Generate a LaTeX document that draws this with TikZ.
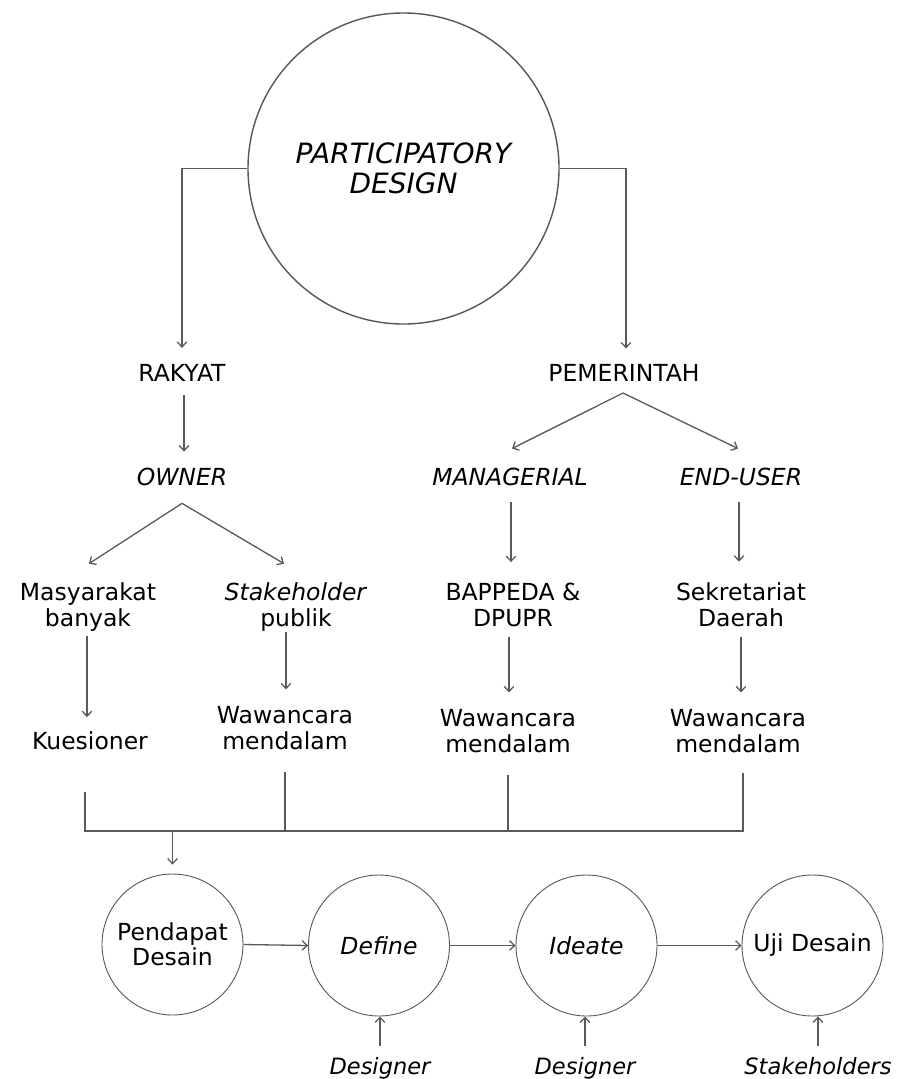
\documentclass[tikz,border=0pt]{standalone}
\usepackage{fontspec}
\setmainfont{DejaVu Sans}
\usetikzlibrary{arrows.meta}
\definecolor{linegray}{HTML}{5A5A5A}
\definecolor{circgray}{HTML}{5A5654}
\begin{document}
\begin{tikzpicture}[x=1pt,y=-1pt,
  lbl/.style={anchor=base,inner sep=0pt,outer sep=0pt,align=center,
    font=\fontsize{23.5}{25.5}\selectfont},
  ital/.style={lbl,font=\fontsize{23.5}{25.5}\selectfont\itshape},
  small/.style={lbl,font=\fontsize{22.5}{25}\selectfont\itshape},
  ln/.style={draw=linegray,line width=1.3pt},
  arr/.style={ln,-{Straight Barb[length=5pt,width=9.5pt]}},
  bigc/.style={circle,draw=circgray,line width=1.4pt,minimum size=311pt,
    inner sep=0pt,align=center,font=\fontsize{28}{30}\selectfont\itshape},
  stage/.style={circle,draw=circgray,line width=0.9pt,minimum size=141pt,
    inner sep=0pt,align=center,font=\fontsize{23.5}{25}\selectfont}
]
% canvas
\fill[white] (0,0) rectangle (912,1079);
\useasboundingbox (0,0) rectangle (912,1079);

% central concept
\node[bigc] (pd) at (403.5,168.5) {PARTICIPATORY\\DESIGN};

% first level
\node[lbl]  (rakyat)     at (182,381)   {RAKYAT};
\node[lbl]  (pemerintah) at (624,381.5) {PEMERINTAH};

% second level
\node[ital] (owner)      at (182,485) {OWNER};
\node[ital] (managerial) at (510,485) {MANAGERIAL};
\node[ital] (enduser)    at (741,485) {END-USER};

% respondent groups
\node[lbl] (masy)    at (88,626)  {Masyarakat\\banyak};
\node[lbl] (stake)   at (296,626) {\textit{Stakeholder}\\publik};
\node[lbl] (bappeda) at (513,626) {BAPPEDA \&\\DPUPR};
\node[lbl] (sekret)  at (741,626) {Sekretariat\\Daerah};

% methods
\node[lbl] (kues) at (90,749)  {Kuesioner};
\node[lbl] (waw1) at (285,749) {Wawancara\\mendalam};
\node[lbl] (waw2) at (508,752) {Wawancara\\mendalam};
\node[lbl] (waw3) at (738,752) {Wawancara\\mendalam};

% design stages
\node[stage] (c1) at (172.5,944.5) {Pendapat\\Desain};
\node[stage] (c2) at (379,945.5)   {\textit{Define}};
\node[stage] (c3) at (586.5,945.5) {\textit{Ideate}};
\node[stage] (c4) at (812.5,945.5) {Uji Desain};

% actors of the stages
\node[small] (des1) at (380,1074) {Designer};
\node[small] (des2) at (585,1074) {Designer};
\node[small] (stk)  at (818,1074) {Stakeholders};

% branches from the central concept
\draw[arr] (pd.west) -| ([yshift=16pt]rakyat.north);
\draw[arr] (pd.east) -| ([xshift=2pt,yshift=16pt]pemerintah.north);

% rakyat side
\draw[arr] ([xshift=2pt,yshift=-14pt]rakyat.south) -- ([xshift=2pt,yshift=16pt]owner.north);
\coordinate (ofork) at ([yshift=-18pt]owner.south);
\draw[arr] (ofork) -- ([xshift=1pt,yshift=19pt]masy.north);
\draw[arr] (ofork) -- ([xshift=-12pt,yshift=19pt]stake.north);

% pemerintah side
\coordinate (pfork) at ([xshift=-1pt,yshift=-11.5pt]pemerintah.south);
\draw[arr] (pfork) -- ([xshift=2pt,yshift=19pt]managerial.north);
\draw[arr] (pfork) -- ([xshift=-3pt,yshift=19pt]enduser.north);
\draw[arr] ([xshift=1pt,yshift=-17pt]managerial.south) -- ([xshift=-2pt,yshift=21pt]bappeda.north);
\draw[arr] ([xshift=-2pt,yshift=-17pt]enduser.south) -- ([xshift=-2pt,yshift=21pt]sekret.north);

% groups to methods
\draw[arr] ([xshift=-1pt,yshift=-5pt]masy.south) -- ([xshift=-3pt,yshift=14pt]kues.north);
\draw[arr] ([xshift=-10pt,yshift=-1pt]stake.south) -- ([xshift=1pt,yshift=17pt]waw1.north);
\draw[arr] ([xshift=-4pt,yshift=-10.5pt]bappeda.south) -- ([xshift=1pt,yshift=17pt]waw2.north);
\draw[arr] ([yshift=-10.5pt]sekret.south) -- ([xshift=3pt,yshift=17pt]waw3.north);

% collecting bus
\coordinate (busy) at (0,831);
\coordinate (k0) at ([xshift=-5pt,yshift=-43pt]kues.south);
\coordinate (w3) at ([xshift=5pt,yshift=-20.5pt]waw3.south);
\draw[ln] (k0) -- (k0 |- busy) -- (w3 |- busy) -- (w3);
\draw[ln] ([yshift=-22.5pt]waw1.south) -- (waw1.south |- busy);
\draw[ln] ([yshift=-22.5pt]waw2.south) -- (waw2.south |- busy);
\draw[arr] (c1.north |- busy) -- ([yshift=9pt]c1.north);

% stage sequence
\draw[arr] (c1.east) -- (c2.west);
\draw[arr] (c2.east) -- (c3.west);
\draw[arr] (c3.east) -- (c4.west);

% actors feeding the stages
\draw[arr] ([yshift=10.5pt]des1.north) -- (des1.north |- c2.south);
\draw[arr] ([yshift=10.5pt]des2.north) -- (des2.north |- c3.south);
\draw[arr] ([yshift=10.5pt]stk.north) -- (stk.north |- c4.south);
\end{tikzpicture}
\end{document}
